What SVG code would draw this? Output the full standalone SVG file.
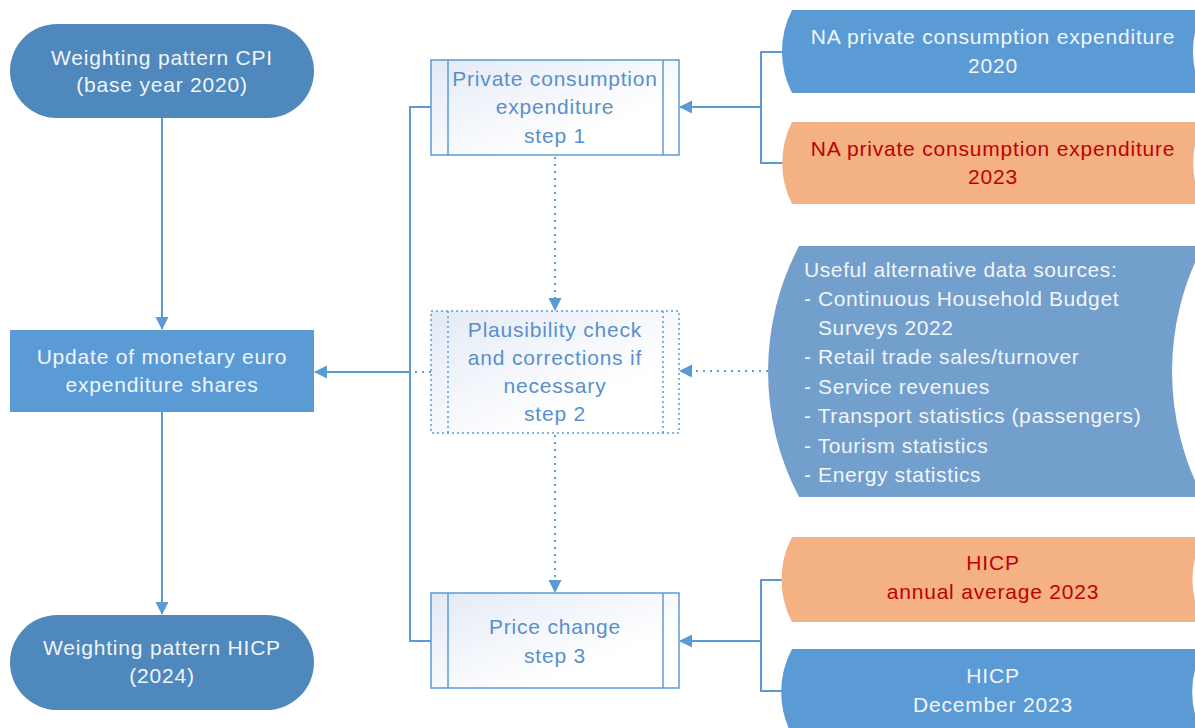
<svg xmlns="http://www.w3.org/2000/svg" width="1195" height="728" viewBox="0 0 1195 728">
  <style>
    .t { font-family: "Liberation Sans", Arial, sans-serif; font-size: 21px; letter-spacing: 0.8px; text-anchor: middle; }
    .tl { font-family: "Liberation Sans", Arial, sans-serif; font-size: 21px; letter-spacing: 0.6px; }
    .w { fill: #F2F5FA; }
    .b { fill: #5A8FCA; }
    .r { fill: #C00000; }
    .term { fill: #4F88BC; }
    .blue { fill: #5B9BD5; }
    .orange { fill: #F4B183; }
    .alt { fill: #739FCC; }
    .step { fill: url(#g); stroke: #5B9BD5; stroke-width: 1.5; }
    .dot { stroke-dasharray: 2 3; }
    .ln { fill: none; stroke: #5B9BD5; stroke-width: 2; }
    .dl { fill: none; stroke: #5B9BD5; stroke-width: 2; stroke-dasharray: 2 5; }
  </style>
  <defs>
    <linearGradient id="g" x1="0" y1="0" x2="1" y2="1">
      <stop offset="0" stop-color="#E3EAF6"/>
      <stop offset="0.7" stop-color="#FFFFFF"/>
    </linearGradient>
    <marker id="a" markerWidth="14" markerHeight="14" refX="12" refY="7" orient="auto" markerUnits="userSpaceOnUse">
      <path d="M0,0.5 L13,7 L0,13.5 Z" fill="#5B9BD5"/>
    </marker>
  </defs>

  <g id="connectors">
    <line class="ln" x1="162" y1="118" x2="162" y2="329" marker-end="url(#a)"/>
    <line class="ln" x1="162" y1="412" x2="162" y2="614" marker-end="url(#a)"/>
    <polyline class="ln" points="431,107 410,107 410,641 431,641"/>
    <line class="ln" x1="410" y1="372" x2="315" y2="372" marker-end="url(#a)"/>
    <line class="dl" x1="431" y1="372" x2="410" y2="372"/>
    <line class="dl" x1="555" y1="157" x2="555" y2="310" marker-end="url(#a)"/>
    <line class="dl" x1="555" y1="435" x2="555" y2="592" marker-end="url(#a)"/>
    <polyline class="ln" points="783,52 761,52 761,163 783,163"/>
    <line class="ln" x1="761" y1="107" x2="680" y2="107" marker-end="url(#a)"/>
    <line class="dl" x1="768" y1="371" x2="680" y2="371" marker-end="url(#a)"/>
    <polyline class="ln" points="783,580 761,580 761,691 783,691"/>
    <line class="ln" x1="761" y1="641" x2="680" y2="641" marker-end="url(#a)"/>
  </g>

  <g id="cpi2020">
    <rect class="term" x="10" y="24" width="304" height="94" rx="47" ry="47"/>
    <text class="t w" x="162" y="65">Weighting pattern CPI</text>
    <text class="t w" x="162" y="92">(base year 2020)</text>
  </g>

  <g id="update">
    <rect class="blue" x="10" y="330" width="304" height="82"/>
    <text class="t w" x="162" y="364">Update of monetary euro</text>
    <text class="t w" x="162" y="392">expenditure shares</text>
  </g>

  <g id="hicp2024">
    <rect class="term" x="10" y="615" width="304" height="95" rx="47.5" ry="47.5"/>
    <text class="t w" x="162" y="655">Weighting pattern HICP</text>
    <text class="t w" x="162" y="683">(2024)</text>
  </g>

  <g id="step1">
    <rect class="step" x="431" y="60" width="248" height="95"/>
    <line x1="448" y1="60" x2="448" y2="155" stroke="#5B9BD5" stroke-width="1.5"/>
    <line x1="663" y1="60" x2="663" y2="155" stroke="#5B9BD5" stroke-width="1.5"/>
    <text class="t b" x="555" y="86">Private consumption</text>
    <text class="t b" x="555" y="114">expenditure</text>
    <text class="t b" x="555" y="143">step 1</text>
  </g>

  <g id="step2">
    <rect class="step dot" x="431" y="311" width="248" height="122"/>
    <line class="dot" x1="448" y1="311" x2="448" y2="433" stroke="#5B9BD5" stroke-width="1.5"/>
    <line class="dot" x1="663" y1="311" x2="663" y2="433" stroke="#5B9BD5" stroke-width="1.5"/>
    <text class="t b" x="555" y="337">Plausibility check</text>
    <text class="t b" x="555" y="365">and corrections if</text>
    <text class="t b" x="555" y="393">necessary</text>
    <text class="t b" x="555" y="421">step 2</text>
  </g>

  <g id="step3">
    <rect class="step" x="431" y="593" width="248" height="95"/>
    <line x1="448" y1="593" x2="448" y2="688" stroke="#5B9BD5" stroke-width="1.5"/>
    <line x1="663" y1="593" x2="663" y2="688" stroke="#5B9BD5" stroke-width="1.5"/>
    <text class="t b" x="555" y="634">Price change</text>
    <text class="t b" x="555" y="663">step 3</text>
  </g>

  <g id="na2020">
    <path class="blue" d="M792,10 L1203,10 A91,91 0 0 0 1203,93 L792,93 A91,91 0 0 1 792,10 Z"/>
    <text class="t w" x="993" y="44">NA private consumption expenditure</text>
    <text class="t w" x="993" y="73">2020</text>
  </g>

  <g id="na2023">
    <path class="orange" d="M792,122 L1203,122 A91,91 0 0 0 1203,204 L792,204 A91,91 0 0 1 792,122 Z"/>
    <text class="t r" x="993" y="156">NA private consumption expenditure</text>
    <text class="t r" x="993" y="184">2023</text>
  </g>

  <g id="alt">
    <path class="alt" d="M799,246 L1203,246 A270,270 0 0 0 1203,497 L799,497 A270,270 0 0 1 799,246 Z"/>
    <text class="tl w" x="804" y="277">Useful alternative data sources:</text>
    <text class="tl w" x="804" y="306">- Continuous Household Budget</text>
    <text class="tl w" x="818" y="335">Surveys 2022</text>
    <text class="tl w" x="804" y="364">- Retail trade sales/turnover</text>
    <text class="tl w" x="804" y="394">- Service revenues</text>
    <text class="tl w" x="804" y="423">- Transport statistics (passengers)</text>
    <text class="tl w" x="804" y="453">- Tourism statistics</text>
    <text class="tl w" x="804" y="482">- Energy statistics</text>
  </g>

  <g id="hicpavg">
    <path class="orange" d="M792,537 L1203,537 A91,91 0 0 0 1203,622 L792,622 A91,91 0 0 1 792,537 Z"/>
    <text class="t r" x="993" y="570">HICP</text>
    <text class="t r" x="993" y="599">annual average 2023</text>
  </g>

  <g id="hicpdec">
    <path class="blue" d="M792,649 L1203,649 A91,91 0 0 0 1203,735 L792,735 A91,91 0 0 1 792,649 Z"/>
    <text class="t w" x="993" y="683">HICP</text>
    <text class="t w" x="993" y="712">December 2023</text>
  </g>
</svg>
